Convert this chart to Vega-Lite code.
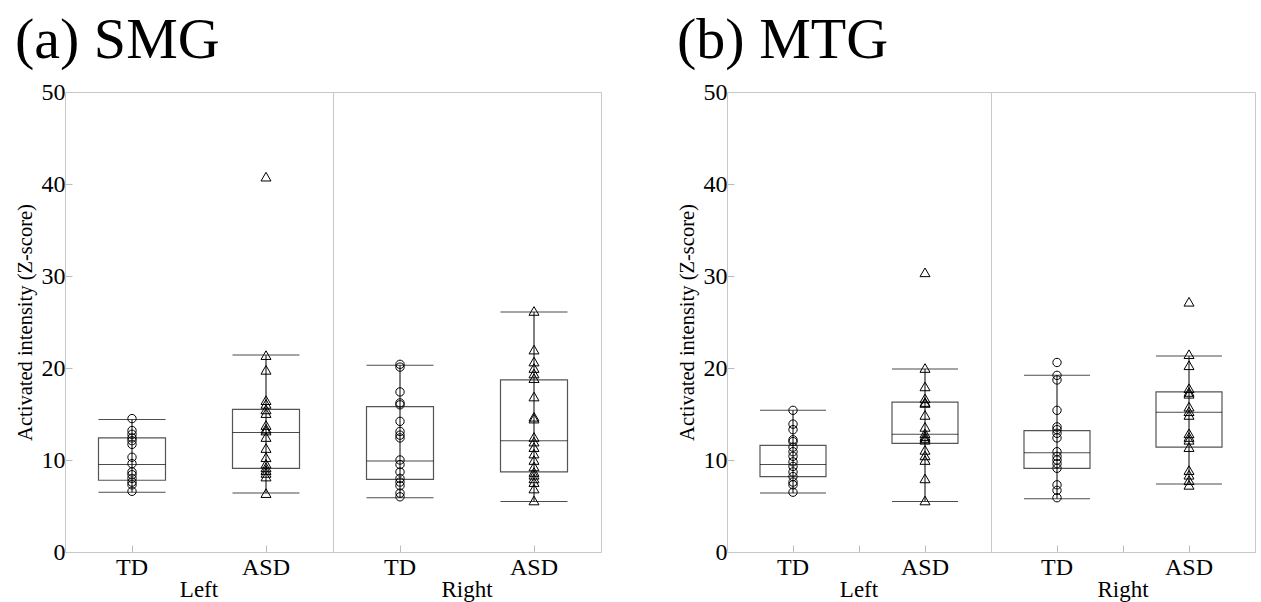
{
  "$schema": "https://vega.github.io/schema/vega-lite/v6.json",
  "background": "white",
  "padding": {"left": 15, "top": 12, "right": 0, "bottom": 0},
  "datasets": {
    "all": [
      {"region":"SMG","side":"Left","group":"TD","kind":"box","lo":6.5,"q1":7.8,"med":9.5,"q3":12.4,"hi":14.4},
      {"region":"SMG","side":"Left","group":"ASD","kind":"box","lo":6.4,"q1":9.1,"med":13.0,"q3":15.5,"hi":21.4},
      {"region":"SMG","side":"Right","group":"TD","kind":"box","lo":5.9,"q1":7.9,"med":9.9,"q3":15.8,"hi":20.3},
      {"region":"SMG","side":"Right","group":"ASD","kind":"box","lo":5.5,"q1":8.7,"med":12.1,"q3":18.7,"hi":26.1},
      {"region":"MTG","side":"Left","group":"TD","kind":"box","lo":6.4,"q1":8.2,"med":9.5,"q3":11.6,"hi":15.4},
      {"region":"MTG","side":"Left","group":"ASD","kind":"box","lo":5.5,"q1":11.8,"med":12.8,"q3":16.3,"hi":19.9},
      {"region":"MTG","side":"Right","group":"TD","kind":"box","lo":5.8,"q1":9.1,"med":10.8,"q3":13.2,"hi":19.2},
      {"region":"MTG","side":"Right","group":"ASD","kind":"box","lo":7.4,"q1":11.4,"med":15.2,"q3":17.4,"hi":21.3},

      {"region":"SMG","side":"Left","group":"TD","kind":"pt","value":14.5},
      {"region":"SMG","side":"Left","group":"TD","kind":"pt","value":13.2},
      {"region":"SMG","side":"Left","group":"TD","kind":"pt","value":12.8},
      {"region":"SMG","side":"Left","group":"TD","kind":"pt","value":12.4},
      {"region":"SMG","side":"Left","group":"TD","kind":"pt","value":12.1},
      {"region":"SMG","side":"Left","group":"TD","kind":"pt","value":11.7},
      {"region":"SMG","side":"Left","group":"TD","kind":"pt","value":10.3},
      {"region":"SMG","side":"Left","group":"TD","kind":"pt","value":9.6},
      {"region":"SMG","side":"Left","group":"TD","kind":"pt","value":8.7},
      {"region":"SMG","side":"Left","group":"TD","kind":"pt","value":8.4},
      {"region":"SMG","side":"Left","group":"TD","kind":"pt","value":8.0},
      {"region":"SMG","side":"Left","group":"TD","kind":"pt","value":7.6},
      {"region":"SMG","side":"Left","group":"TD","kind":"pt","value":7.3},
      {"region":"SMG","side":"Left","group":"TD","kind":"pt","value":6.6},

      {"region":"SMG","side":"Left","group":"ASD","kind":"pt","value":40.8},
      {"region":"SMG","side":"Left","group":"ASD","kind":"pt","value":21.4},
      {"region":"SMG","side":"Left","group":"ASD","kind":"pt","value":19.8},
      {"region":"SMG","side":"Left","group":"ASD","kind":"pt","value":16.5},
      {"region":"SMG","side":"Left","group":"ASD","kind":"pt","value":16.1},
      {"region":"SMG","side":"Left","group":"ASD","kind":"pt","value":15.5},
      {"region":"SMG","side":"Left","group":"ASD","kind":"pt","value":15.1},
      {"region":"SMG","side":"Left","group":"ASD","kind":"pt","value":13.8},
      {"region":"SMG","side":"Left","group":"ASD","kind":"pt","value":13.4},
      {"region":"SMG","side":"Left","group":"ASD","kind":"pt","value":13.2},
      {"region":"SMG","side":"Left","group":"ASD","kind":"pt","value":12.5},
      {"region":"SMG","side":"Left","group":"ASD","kind":"pt","value":11.3},
      {"region":"SMG","side":"Left","group":"ASD","kind":"pt","value":10.3},
      {"region":"SMG","side":"Left","group":"ASD","kind":"pt","value":9.6},
      {"region":"SMG","side":"Left","group":"ASD","kind":"pt","value":9.2},
      {"region":"SMG","side":"Left","group":"ASD","kind":"pt","value":8.9},
      {"region":"SMG","side":"Left","group":"ASD","kind":"pt","value":8.6},
      {"region":"SMG","side":"Left","group":"ASD","kind":"pt","value":8.2},
      {"region":"SMG","side":"Left","group":"ASD","kind":"pt","value":6.4},

      {"region":"SMG","side":"Right","group":"TD","kind":"pt","value":20.4},
      {"region":"SMG","side":"Right","group":"TD","kind":"pt","value":20.1},
      {"region":"SMG","side":"Right","group":"TD","kind":"pt","value":17.4},
      {"region":"SMG","side":"Right","group":"TD","kind":"pt","value":16.2},
      {"region":"SMG","side":"Right","group":"TD","kind":"pt","value":16.0},
      {"region":"SMG","side":"Right","group":"TD","kind":"pt","value":14.2},
      {"region":"SMG","side":"Right","group":"TD","kind":"pt","value":13.1},
      {"region":"SMG","side":"Right","group":"TD","kind":"pt","value":12.7},
      {"region":"SMG","side":"Right","group":"TD","kind":"pt","value":12.4},
      {"region":"SMG","side":"Right","group":"TD","kind":"pt","value":10.0},
      {"region":"SMG","side":"Right","group":"TD","kind":"pt","value":9.5},
      {"region":"SMG","side":"Right","group":"TD","kind":"pt","value":8.7},
      {"region":"SMG","side":"Right","group":"TD","kind":"pt","value":8.0},
      {"region":"SMG","side":"Right","group":"TD","kind":"pt","value":7.6},
      {"region":"SMG","side":"Right","group":"TD","kind":"pt","value":7.2},
      {"region":"SMG","side":"Right","group":"TD","kind":"pt","value":6.4},
      {"region":"SMG","side":"Right","group":"TD","kind":"pt","value":6.0},

      {"region":"SMG","side":"Right","group":"ASD","kind":"pt","value":26.2},
      {"region":"SMG","side":"Right","group":"ASD","kind":"pt","value":22.0},
      {"region":"SMG","side":"Right","group":"ASD","kind":"pt","value":20.7},
      {"region":"SMG","side":"Right","group":"ASD","kind":"pt","value":20.0},
      {"region":"SMG","side":"Right","group":"ASD","kind":"pt","value":19.4},
      {"region":"SMG","side":"Right","group":"ASD","kind":"pt","value":18.9},
      {"region":"SMG","side":"Right","group":"ASD","kind":"pt","value":16.9},
      {"region":"SMG","side":"Right","group":"ASD","kind":"pt","value":14.7},
      {"region":"SMG","side":"Right","group":"ASD","kind":"pt","value":14.5},
      {"region":"SMG","side":"Right","group":"ASD","kind":"pt","value":12.5},
      {"region":"SMG","side":"Right","group":"ASD","kind":"pt","value":12.0},
      {"region":"SMG","side":"Right","group":"ASD","kind":"pt","value":11.4},
      {"region":"SMG","side":"Right","group":"ASD","kind":"pt","value":10.7},
      {"region":"SMG","side":"Right","group":"ASD","kind":"pt","value":10.0},
      {"region":"SMG","side":"Right","group":"ASD","kind":"pt","value":9.3},
      {"region":"SMG","side":"Right","group":"ASD","kind":"pt","value":8.7},
      {"region":"SMG","side":"Right","group":"ASD","kind":"pt","value":8.4},
      {"region":"SMG","side":"Right","group":"ASD","kind":"pt","value":8.0},
      {"region":"SMG","side":"Right","group":"ASD","kind":"pt","value":7.6},
      {"region":"SMG","side":"Right","group":"ASD","kind":"pt","value":6.9},
      {"region":"SMG","side":"Right","group":"ASD","kind":"pt","value":5.6},

      {"region":"MTG","side":"Left","group":"TD","kind":"pt","value":15.4},
      {"region":"MTG","side":"Left","group":"TD","kind":"pt","value":13.9},
      {"region":"MTG","side":"Left","group":"TD","kind":"pt","value":13.3},
      {"region":"MTG","side":"Left","group":"TD","kind":"pt","value":12.2},
      {"region":"MTG","side":"Left","group":"TD","kind":"pt","value":12.0},
      {"region":"MTG","side":"Left","group":"TD","kind":"pt","value":11.4},
      {"region":"MTG","side":"Left","group":"TD","kind":"pt","value":10.9},
      {"region":"MTG","side":"Left","group":"TD","kind":"pt","value":10.4},
      {"region":"MTG","side":"Left","group":"TD","kind":"pt","value":9.8},
      {"region":"MTG","side":"Left","group":"TD","kind":"pt","value":9.3},
      {"region":"MTG","side":"Left","group":"TD","kind":"pt","value":8.7},
      {"region":"MTG","side":"Left","group":"TD","kind":"pt","value":8.2},
      {"region":"MTG","side":"Left","group":"TD","kind":"pt","value":7.6},
      {"region":"MTG","side":"Left","group":"TD","kind":"pt","value":7.3},
      {"region":"MTG","side":"Left","group":"TD","kind":"pt","value":6.5},

      {"region":"MTG","side":"Left","group":"ASD","kind":"pt","value":30.4},
      {"region":"MTG","side":"Left","group":"ASD","kind":"pt","value":20.0},
      {"region":"MTG","side":"Left","group":"ASD","kind":"pt","value":18.0},
      {"region":"MTG","side":"Left","group":"ASD","kind":"pt","value":16.7},
      {"region":"MTG","side":"Left","group":"ASD","kind":"pt","value":16.3},
      {"region":"MTG","side":"Left","group":"ASD","kind":"pt","value":16.2},
      {"region":"MTG","side":"Left","group":"ASD","kind":"pt","value":14.9},
      {"region":"MTG","side":"Left","group":"ASD","kind":"pt","value":13.6},
      {"region":"MTG","side":"Left","group":"ASD","kind":"pt","value":12.9},
      {"region":"MTG","side":"Left","group":"ASD","kind":"pt","value":12.6},
      {"region":"MTG","side":"Left","group":"ASD","kind":"pt","value":12.4},
      {"region":"MTG","side":"Left","group":"ASD","kind":"pt","value":12.2},
      {"region":"MTG","side":"Left","group":"ASD","kind":"pt","value":11.1},
      {"region":"MTG","side":"Left","group":"ASD","kind":"pt","value":10.5},
      {"region":"MTG","side":"Left","group":"ASD","kind":"pt","value":10.0},
      {"region":"MTG","side":"Left","group":"ASD","kind":"pt","value":8.0},
      {"region":"MTG","side":"Left","group":"ASD","kind":"pt","value":5.6},

      {"region":"MTG","side":"Right","group":"TD","kind":"pt","value":20.6},
      {"region":"MTG","side":"Right","group":"TD","kind":"pt","value":19.2},
      {"region":"MTG","side":"Right","group":"TD","kind":"pt","value":18.7},
      {"region":"MTG","side":"Right","group":"TD","kind":"pt","value":15.4},
      {"region":"MTG","side":"Right","group":"TD","kind":"pt","value":13.6},
      {"region":"MTG","side":"Right","group":"TD","kind":"pt","value":13.3},
      {"region":"MTG","side":"Right","group":"TD","kind":"pt","value":12.9},
      {"region":"MTG","side":"Right","group":"TD","kind":"pt","value":12.4},
      {"region":"MTG","side":"Right","group":"TD","kind":"pt","value":10.9},
      {"region":"MTG","side":"Right","group":"TD","kind":"pt","value":10.4},
      {"region":"MTG","side":"Right","group":"TD","kind":"pt","value":10.0},
      {"region":"MTG","side":"Right","group":"TD","kind":"pt","value":9.6},
      {"region":"MTG","side":"Right","group":"TD","kind":"pt","value":9.1},
      {"region":"MTG","side":"Right","group":"TD","kind":"pt","value":7.3},
      {"region":"MTG","side":"Right","group":"TD","kind":"pt","value":6.7},
      {"region":"MTG","side":"Right","group":"TD","kind":"pt","value":5.9},

      {"region":"MTG","side":"Right","group":"ASD","kind":"pt","value":27.2},
      {"region":"MTG","side":"Right","group":"ASD","kind":"pt","value":21.5},
      {"region":"MTG","side":"Right","group":"ASD","kind":"pt","value":20.3},
      {"region":"MTG","side":"Right","group":"ASD","kind":"pt","value":17.8},
      {"region":"MTG","side":"Right","group":"ASD","kind":"pt","value":17.4},
      {"region":"MTG","side":"Right","group":"ASD","kind":"pt","value":17.2},
      {"region":"MTG","side":"Right","group":"ASD","kind":"pt","value":15.8},
      {"region":"MTG","side":"Right","group":"ASD","kind":"pt","value":15.3},
      {"region":"MTG","side":"Right","group":"ASD","kind":"pt","value":14.9},
      {"region":"MTG","side":"Right","group":"ASD","kind":"pt","value":12.9},
      {"region":"MTG","side":"Right","group":"ASD","kind":"pt","value":12.5},
      {"region":"MTG","side":"Right","group":"ASD","kind":"pt","value":12.2},
      {"region":"MTG","side":"Right","group":"ASD","kind":"pt","value":11.4},
      {"region":"MTG","side":"Right","group":"ASD","kind":"pt","value":8.9},
      {"region":"MTG","side":"Right","group":"ASD","kind":"pt","value":8.4},
      {"region":"MTG","side":"Right","group":"ASD","kind":"pt","value":7.8},
      {"region":"MTG","side":"Right","group":"ASD","kind":"pt","value":7.3}
    ]
  },
  "spacing": 75,
  "hconcat": [
    {
      "title": {"text": "(a) SMG"},
      "data": {"name": "all"},
      "transform": [{"filter": "datum.region == 'SMG'"}],
      "facet": {"column": {"field": "side", "type": "nominal", "sort": ["Left", "Right"], "title": null,
        "header": {"labelOrient": "bottom", "labelFont": "Liberation Serif", "labelFontSize": 23, "labelColor": "black", "labelPadding": 0}}},
      "spacing": 0,
      "bounds": "flush",
      "spec": {
        "width": 268, "height": 460,
        "encoding": {
          "x": {"field": "group", "type": "nominal", "sort": ["TD", "ASD"], "scale": {"type": "band", "paddingInner": 0, "paddingOuter": 0}, "title": null}
        },
        "layer": [
          {"transform": [{"filter": "datum.kind == 'box'"}],
           "mark": {"type": "bar", "width": {"band": 0.5}, "fill": "white", "fillOpacity": 0, "stroke": "#555", "strokeWidth": 1.2},
           "encoding": {"y": {"field": "q1", "type": "quantitative", "scale": {"domain": [0, 50]}, "title": "Activated intensity (Z-score)", "axis": {"values": [0, 10, 20, 30, 40, 50]}}, "y2": {"field": "q3"}}},
          {"transform": [{"filter": "datum.kind == 'box'"}],
           "mark": {"type": "rule", "color": "black", "strokeWidth": 1},
           "encoding": {"y": {"field": "lo", "type": "quantitative"}, "y2": {"field": "hi"}}},
          {"transform": [{"filter": "datum.kind == 'box'"}],
           "mark": {"type": "tick", "color": "black", "thickness": 1, "size": 67},
           "encoding": {"y": {"field": "lo", "type": "quantitative"}}},
          {"transform": [{"filter": "datum.kind == 'box'"}],
           "mark": {"type": "tick", "color": "black", "thickness": 1, "size": 67},
           "encoding": {"y": {"field": "hi", "type": "quantitative"}}},
          {"transform": [{"filter": "datum.kind == 'box'"}],
           "mark": {"type": "tick", "color": "black", "thickness": 1, "size": 67},
           "encoding": {"y": {"field": "med", "type": "quantitative"}}},
          {"transform": [{"filter": "datum.kind == 'pt'"}],
           "mark": {"type": "point", "filled": false, "strokeWidth": 1, "color": "black", "opacity": 1},
           "encoding": {"y": {"field": "value", "type": "quantitative"},
             "shape": {"field": "group", "type": "nominal", "scale": {"domain": ["TD", "ASD"], "range": ["circle", "triangle-up"]}, "legend": null},
             "size": {"field": "group", "type": "ordinal", "scale": {"domain": ["TD", "ASD"], "range": [70, 100]}, "legend": null}}}
        ]
      }
    },
    {
      "title": {"text": "(b) MTG"},
      "data": {"name": "all"},
      "transform": [{"filter": "datum.region == 'MTG'"}],
      "facet": {"column": {"field": "side", "type": "nominal", "sort": ["Left", "Right"], "title": null,
        "header": {"labelOrient": "bottom", "labelFont": "Liberation Serif", "labelFontSize": 23, "labelColor": "black", "labelPadding": 0}}},
      "spacing": 0,
      "bounds": "flush",
      "spec": {
        "width": 264, "height": 460,
        "encoding": {
          "x": {"field": "group", "type": "nominal", "sort": ["TD", "ASD"], "scale": {"type": "band", "paddingInner": 0, "paddingOuter": 0}, "title": null, "axis": null}
        },
        "resolve": {"axis": {"x": "independent"}},
        "layer": [
          {"transform": [{"filter": "datum.kind == 'box'"}],
           "mark": {"type": "bar", "width": {"band": 0.5}, "fill": "white", "fillOpacity": 0, "stroke": "#555", "strokeWidth": 1.2},
           "encoding": {
             "x": {"field": "group", "type": "nominal", "sort": ["TD", "ASD"], "scale": {"type": "band", "paddingInner": 0, "paddingOuter": 0}, "title": null, "axis": {"orient": "bottom"}},
             "y": {"field": "q1", "type": "quantitative", "scale": {"domain": [0, 50]}, "title": "Activated intensity (Z-score)", "axis": {"values": [0, 10, 20, 30, 40, 50]}}, "y2": {"field": "q3"}}},
          {"transform": [{"filter": "datum.kind == 'box'"}],
           "mark": {"type": "rule", "color": "black", "strokeWidth": 1},
           "encoding": {
             "x": {"field": "group", "type": "nominal", "sort": ["TD", "ASD"], "scale": {"type": "band", "paddingInner": 0, "paddingOuter": 0}, "title": null, "axis": {"orient": "bottom", "tickBand": "extent", "labels": false}},
             "y": {"field": "lo", "type": "quantitative"}, "y2": {"field": "hi"}}},
          {"transform": [{"filter": "datum.kind == 'box'"}],
           "mark": {"type": "tick", "color": "black", "thickness": 1, "size": 66},
           "encoding": {"y": {"field": "lo", "type": "quantitative"}}},
          {"transform": [{"filter": "datum.kind == 'box'"}],
           "mark": {"type": "tick", "color": "black", "thickness": 1, "size": 66},
           "encoding": {"y": {"field": "hi", "type": "quantitative"}}},
          {"transform": [{"filter": "datum.kind == 'box'"}],
           "mark": {"type": "tick", "color": "black", "thickness": 1, "size": 66},
           "encoding": {"y": {"field": "med", "type": "quantitative"}}},
          {"transform": [{"filter": "datum.kind == 'pt'"}],
           "mark": {"type": "point", "filled": false, "strokeWidth": 1, "color": "black", "opacity": 1},
           "encoding": {"y": {"field": "value", "type": "quantitative"},
             "shape": {"field": "group", "type": "nominal", "scale": {"domain": ["TD", "ASD"], "range": ["circle", "triangle-up"]}, "legend": null},
             "size": {"field": "group", "type": "ordinal", "scale": {"domain": ["TD", "ASD"], "range": [70, 100]}, "legend": null}}}
        ]
      }
    }
  ],
  "config": {
    "font": "Liberation Serif",
    "view": {"stroke": "#c8c8c8", "strokeWidth": 1},
    "title": {"anchor": "start", "fontSize": 58, "fontWeight": "normal", "font": "Liberation Serif", "color": "black", "offset": 10},
    "axis": {"labelFont": "Liberation Serif", "labelFontSize": 24, "labelColor": "black", "titleFont": "Liberation Serif", "titleFontSize": 20.5, "titleFontWeight": "normal", "titleColor": "black", "tickColor": "#bbb", "tickSize": -7, "domain": false, "grid": false, "labelAngle": 0},
    "axisX": {"labelPadding": 10},
    "axisY": {"labelPadding": 7, "titlePadding": 6}
  }
}
